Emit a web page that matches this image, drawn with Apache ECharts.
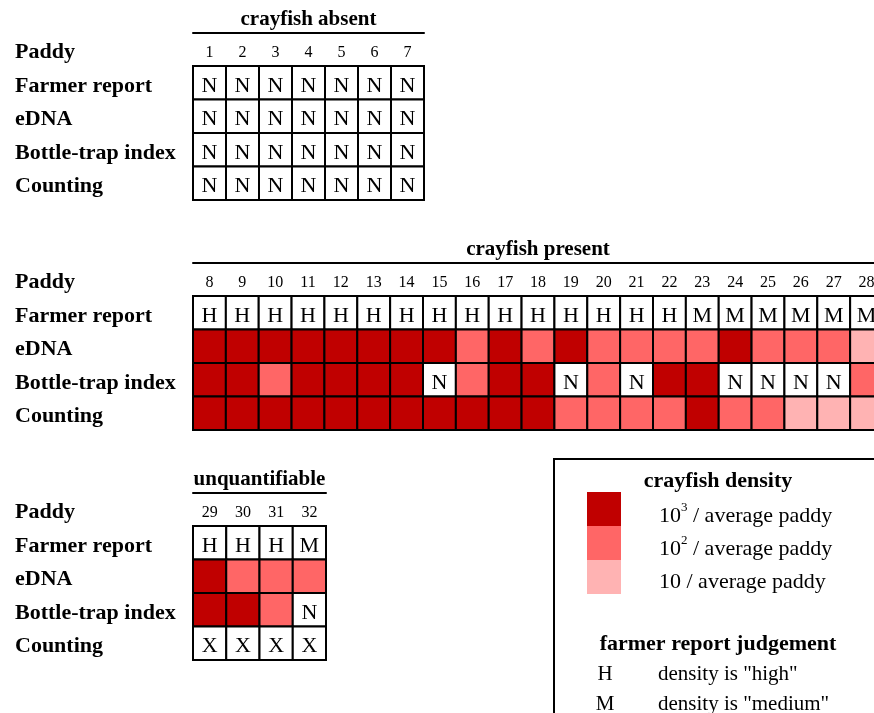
<!DOCTYPE html>
<html><head><meta charset="utf-8">
<script src="https://cdn.jsdelivr.net/npm/echarts@6/dist/echarts.min.js"></script>
<style>html,body{margin:0;padding:0;background:#fff}#c{width:874px;height:713px}</style>
</head><body><div id="c"></div>
<script>
// ---- data ----
const rowNames = ['Paddy', 'Farmer report', 'eDNA', 'Bottle-trap index', 'Counting'];

const absentPaddies = ['1','2','3','4','5','6','7'];
const absentFarmer   = ['N','N','N','N','N','N','N'];
const absentEDNA     = ['N','N','N','N','N','N','N'];
const absentBottle   = ['N','N','N','N','N','N','N'];
const absentCounting = ['N','N','N','N','N','N','N'];

const presentPaddies = ['8','9','10','11','12','13','14','15','16','17','18','19','20','21','22','23','24','25','26','27','28'];
const presentFarmer   = ['H','H','H','H','H','H','H','H','H','H','H','H','H','H','H','M','M','M','M','M','M'];
const presentEDNA     = [3,3,3,3,3,3,3,3,2,3,2,3,2,2,2,2,3,2,2,2,1];
const presentBottle   = [3,3,2,3,3,3,3,'N',2,3,3,'N',2,'N',3,3,'N','N','N','N',2];
const presentCounting = [3,3,3,3,3,3,3,3,3,3,3,2,2,2,2,3,2,2,1,1,1];

const unqPaddies = ['29','30','31','32'];
const unqFarmer   = ['H','H','H','M'];
const unqEDNA     = [3,2,2,2];
const unqBottle   = [3,3,2,'N'];
const unqCounting = ['X','X','X','X'];

const densityColors = {3: '#C00000', 2: '#FF6666', 1: '#FFB3B3'};
const legendDensity = ['10', '10', '10'];
const legendExp = ['3', '2', ''];
const judgementKeys = ['H', 'M'];
const judgementText = ['density is "high"', 'density is "medium"'];

// ---- build ----
const SERIF = '"Liberation Serif", "Times New Roman", serif';
const tables = [
  {title: 'crayfish absent', paddies: absentPaddies, rows: [absentFarmer, absentEDNA, absentBottle, absentCounting], top: 32.5, width: 231},
  {title: 'crayfish present', paddies: presentPaddies, rows: [presentFarmer, presentEDNA, presentBottle, presentCounting], top: 262.5, width: 690},
  {title: 'unquantifiable', paddies: unqPaddies, rows: [unqFarmer, unqEDNA, unqBottle, unqCounting], top: 492.5, width: 133}
];

const grids = [], xAxes = [], yAxes = [], series = [];
tables.forEach((t, i) => {
  grids.push({left: 193, top: t.top, height: 167.5, width: t.width, containLabel: false, outerBoundsMode: 'none'});
  xAxes.push({
    gridIndex: i, type: 'category', data: t.paddies, position: 'top',
    axisLine: {show: true, lineStyle: {color: '#000', width: 2}},
    axisTick: {show: false}, axisLabel: {show: false}, splitLine: {show: false},
    name: t.title, nameLocation: 'middle', nameGap: 2,
    nameTextStyle: {fontFamily: SERIF, fontWeight: 'bold', fontSize: 21, color: '#000'}
  });
  yAxes.push({
    gridIndex: i, type: 'category', data: rowNames, inverse: true,
    axisLine: {show: false}, axisTick: {show: false}, splitLine: {show: false},
    axisLabel: {align: 'left', margin: 178, color: '#000',
      formatter: function (v) { return '{r|' + v + '}'; },
      rich: {r: {fontFamily: SERIF, fontWeight: 'bold', fontSize: 22, color: '#000', padding: [7, 0, 0, 0]}}}
  });
  const data = [], cells = [];
  t.paddies.forEach((p, ci) => { data.push([ci, 0]); cells.push({kind: 'num', v: p}); });
  t.rows.forEach((row, ri) => row.forEach((v, ci) => { data.push([ci, ri + 1]); cells.push({kind: 'cell', v: v}); }));
  series.push({
    type: 'custom', xAxisIndex: i, yAxisIndex: i, data: data, clip: false, silent: true,
    renderItem: function (params, api) {
      const c = api.coord([api.value(0), api.value(1)]);
      const s = api.size([1, 1]);
      const cell = cells[params.dataIndex];
      if (cell.kind === 'num') {
        return {type: 'text', style: {x: c[0], y: c[1] + 4, text: cell.v, fill: '#000',
          font: '16px ' + SERIF, textAlign: 'center', textVerticalAlign: 'middle'}};
      }
      const isNum = typeof cell.v === 'number';
      const children = [{
        type: 'rect',
        shape: {x: c[0] - s[0] / 2, y: c[1] - s[1] / 2, width: s[0], height: s[1]},
        style: {fill: isNum ? densityColors[cell.v] : '#fff', stroke: '#000', lineWidth: 2}
      }];
      if (!isNum) {
        children.push({type: 'text', style: {x: c[0], y: c[1] + 3, text: cell.v, fill: '#000',
          font: '22px ' + SERIF, textAlign: 'center', textVerticalAlign: 'middle'}});
      }
      return {type: 'group', children: children};
    }
  });
});

// legend (graphic)
const legendChildren = [
  {type: 'rect', shape: {x: 554, y: 459, width: 340, height: 280}, style: {fill: '#fff', stroke: '#000', lineWidth: 2}},
  {type: 'text', style: {x: 718, y: 481, text: 'crayfish density', font: 'bold 22px ' + SERIF, fill: '#000', textAlign: 'center', textVerticalAlign: 'middle'}},
  {type: 'text', style: {x: 718, y: 644, text: 'farmer report judgement', font: 'bold 22px ' + SERIF, fill: '#000', textAlign: 'center', textVerticalAlign: 'middle'}}
];
[3, 2, 1].forEach((lvl, k) => {
  legendChildren.push({type: 'rect', shape: {x: 587, y: 492 + k * 34, width: 34, height: 34}, style: {fill: densityColors[lvl], lineWidth: 0}});
  legendChildren.push({type: 'text', style: {
    x: 659, y: 514 + k * 33,
    text: '{b|' + legendDensity[k] + '}' + (legendExp[k] ? '{s|' + legendExp[k] + '}' : '') + '{b| / average paddy}',
    rich: {b: {font: '22px ' + SERIF, fill: '#000', verticalAlign: 'bottom', lineHeight: 26},
           s: {font: '13px ' + SERIF, fill: '#000', verticalAlign: 'top', lineHeight: 26, padding: [0, 0, 12, 0]}},
    textVerticalAlign: 'middle'
  }});
});
judgementKeys.forEach((k, j) => {
  legendChildren.push({type: 'text', style: {x: 605, y: 674 + j * 30, text: k, font: '21px ' + SERIF, fill: '#000', textAlign: 'center', textVerticalAlign: 'middle'}});
  legendChildren.push({type: 'text', style: {x: 658, y: 674 + j * 30, text: judgementText[j], font: '21px ' + SERIF, fill: '#000', textVerticalAlign: 'middle'}});
});

const chart = echarts.init(document.getElementById('c'), null, {renderer: 'canvas'});
chart.setOption({
  animation: false,
  backgroundColor: '#fff',
  grid: grids, xAxis: xAxes, yAxis: yAxes, series: series,
  graphic: [{type: 'group', children: legendChildren}]
});
</script></body></html>
